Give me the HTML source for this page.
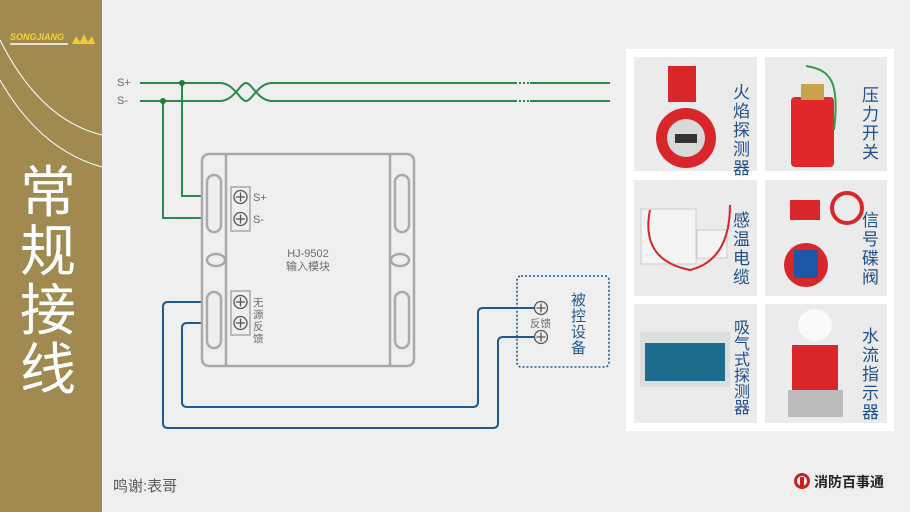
<!DOCTYPE html>
<html><head><meta charset="utf-8"><style>
html,body{margin:0;padding:0;}
body{width:910px;height:512px;overflow:hidden;background:#efeff0;font-family:"Liberation Sans","Noto Sans CJK SC",sans-serif;position:relative;}
</style></head><body>
<svg width="910" height="512" viewBox="0 0 910 512" xmlns="http://www.w3.org/2000/svg" style="position:absolute;left:0;top:0" font-family="Liberation Sans, Noto Sans CJK SC, sans-serif">
<rect x="0" y="0" width="910" height="512" fill="#efeff0"/>
<rect x="0" y="0" width="102" height="512" fill="#a08a4f"/>
<path d="M0 40 Q40 120 102 135" stroke="#fff" stroke-width="1" fill="none"/>
<path d="M0 80 Q40 150 102 167" stroke="#fff" stroke-width="1" fill="none"/>
<text x="10" y="40" font-size="9" font-weight="bold" font-style="italic" fill="#f3d23a">SONGJIANG</text>
<rect x="10" y="43" width="58" height="2" fill="#e8e0c8"/>
<path d="M72 44 L76 36 L80 42 L84 34 L88 42 L92 36 L95 44 Z" fill="#f1c83a"/>
<g fill="#fff" font-size="56" font-family="Noto Sans CJK SC, sans-serif">
<text x="20" y="212">常</text><text x="20" y="271">规</text><text x="20" y="330">接</text><text x="20" y="389">线</text>
</g>
<g stroke="#2b8a4a" stroke-width="2" fill="none">
<path d="M140 83 H220 C234 83 240 101 246 101 C252 101 258 83 272 83 H515"/>
<path d="M140 101 H220 C234 101 240 83 246 83 C252 83 258 101 272 101 H515"/>
<path d="M530 83 H610 M530 101 H610"/>
<path d="M515 83 H530 M515 101 H530" stroke-dasharray="2 2"/>
<path d="M182 83 V196 H202"/>
<path d="M163 101 V218 H202"/>
</g>
<circle cx="182" cy="83" r="3" fill="#1e7a3c"/>
<circle cx="163" cy="101" r="3" fill="#1e7a3c"/>
<g stroke="#1f5a8e" stroke-width="2" fill="none">
<path d="M202 302 H168 Q163 302 163 307 V423 Q163 428 168 428 H493 Q498 428 498 423 V342 Q498 337 503 337 H535"/>
<path d="M202 323 H187 Q182 323 182 328 V402 Q182 407 187 407 H473 Q478 407 478 402 V313 Q478 308 483 308 H535"/>
</g>
<g stroke="#a9a9ab" stroke-width="2.5" fill="#efeff0">
<rect x="202" y="154" width="212" height="212" rx="7"/>
<line x1="226" y1="154" x2="226" y2="366"/>
<line x1="390" y1="154" x2="390" y2="366"/>
<rect x="207" y="175" width="14" height="57" rx="7"/>
<rect x="207" y="292" width="14" height="56" rx="7"/>
<rect x="395" y="175" width="14" height="57" rx="7"/>
<rect x="395" y="292" width="14" height="56" rx="7"/>
<ellipse cx="216" cy="260" rx="9" ry="6"/>
<ellipse cx="400" cy="260" rx="9" ry="6"/>
<rect x="231" y="187" width="19" height="44" stroke-width="1.5"/>
<rect x="231" y="291" width="19" height="44" stroke-width="1.5"/>
</g>
<g stroke="#555" stroke-width="1.3" fill="#efeff0">
<circle cx="240.5" cy="197" r="6.5"/><circle cx="240.5" cy="219" r="6.5"/>
<circle cx="240.5" cy="302" r="6.5"/><circle cx="240.5" cy="323" r="6.5"/>
<circle cx="541" cy="308" r="6.5"/><circle cx="541" cy="337" r="6.5"/>
<path d="M236 197h9M240.5 192.5v9M236 219h9M240.5 214.5v9M236 302h9M240.5 297.5v9M236 323h9M240.5 318.5v9M536.5 308h9M541 303.5v9M536.5 337h9M541 332.5v9"/>
</g>
<g fill="#6b6b6b" font-size="11">
<text x="253" y="201">S+</text><text x="253" y="223">S-</text>
<text x="117" y="86">S+</text><text x="117" y="104">S-</text>
<text x="308" y="257" text-anchor="middle">HJ-9502</text>
<text x="308" y="270" text-anchor="middle" font-size="11">输入模块</text>
<text x="253" y="306" font-size="10.5">无</text><text x="253" y="318" font-size="10.5">源</text>
<text x="253" y="330" font-size="10.5">反</text><text x="253" y="342" font-size="10.5">馈</text>
<text x="530" y="327" font-size="10.5">反馈</text>
</g>
<rect x="517" y="276" width="92" height="91" rx="4" fill="none" stroke="#1f5a8e" stroke-width="1.6" stroke-dasharray="2 2"/>
<g fill="#1f5a8e" font-size="15">
<text x="571" y="305">被</text><text x="571" y="321">控</text><text x="571" y="337">设</text><text x="571" y="353">备</text>
</g>
<rect x="626" y="49" width="268" height="382" fill="#fff"/>
<g fill="#ebebec">
<rect x="634" y="57" width="123" height="114"/><rect x="765" y="57" width="122" height="114"/>
<rect x="634" y="180" width="123" height="116"/><rect x="765" y="180" width="122" height="116"/>
<rect x="634" y="304" width="123" height="119"/><rect x="765" y="304" width="122" height="119"/>
</g>
<rect x="668" y="66" width="28" height="36" fill="#d8262a"/>
<circle cx="686" cy="138" r="30" fill="#d8262a"/><circle cx="686" cy="138" r="19" fill="#d9d9d9"/><rect x="675" y="134" width="22" height="9" fill="#333"/>
<rect x="791" y="97" width="43" height="70" rx="4" fill="#e0282b"/><rect x="801" y="84" width="23" height="16" fill="#c9a24a"/>
<path d="M806 66 C830 70 840 80 834 130" stroke="#2aa04a" stroke-width="2" fill="none"/>
<rect x="641" y="209" width="55" height="55" fill="#f4f4f4" stroke="#ccc"/><rect x="697" y="230" width="30" height="28" fill="#f4f4f4" stroke="#ccc"/>
<path d="M650 210 Q640 260 690 270 Q730 260 730 205" stroke="#d8262a" stroke-width="2" fill="none"/>
<rect x="790" y="200" width="30" height="20" fill="#d8262a"/><circle cx="847" cy="208" r="15" fill="none" stroke="#d8262a" stroke-width="4"/>
<circle cx="806" cy="265" r="22" fill="#d8262a"/><rect x="794" y="250" width="24" height="28" fill="#1c5aa8"/>
<rect x="640" y="332" width="90" height="55" fill="#dcdfe0"/><rect x="645" y="343" width="80" height="38" fill="#1c6d8e"/>
<rect x="792" y="345" width="46" height="45" fill="#d8262a"/><rect x="788" y="390" width="55" height="27" fill="#bbb"/><ellipse cx="815" cy="325" rx="17" ry="16" fill="#fafafa"/>
<g fill="#1f4e8c" font-size="17" font-family="Noto Sans CJK SC, sans-serif">
<text x="733" y="98">火</text><text x="733" y="117">焰</text><text x="733" y="136">探</text><text x="733" y="155">测</text><text x="733" y="174">器</text>
<text x="862" y="101">压</text><text x="862" y="120">力</text><text x="862" y="139">开</text><text x="862" y="158">关</text>
<text x="733" y="226">感</text><text x="733" y="245">温</text><text x="733" y="264">电</text><text x="733" y="283">缆</text>
<text x="862" y="226">信</text><text x="862" y="245">号</text><text x="862" y="264">碟</text><text x="862" y="283">阀</text>
<text x="862" y="342">水</text><text x="862" y="361">流</text><text x="862" y="380">指</text><text x="862" y="399">示</text><text x="862" y="418">器</text>
</g>
<g fill="#1f4e8c" font-size="16" font-family="Noto Sans CJK SC, sans-serif">
<text x="734" y="333">吸</text><text x="734" y="349">气</text><text x="734" y="365">式</text><text x="734" y="381">探</text><text x="734" y="397">测</text><text x="734" y="413">器</text>
</g>
<text x="113" y="491" fill="#5a5a5a" font-size="15">鸣谢:表哥</text>
<circle cx="802" cy="481" r="8" fill="#c8201f"/><circle cx="802" cy="481" r="5" fill="#fff"/><rect x="800" y="477" width="4" height="9" fill="#c8201f"/>
<text x="814" y="487" fill="#222" font-size="14" font-weight="bold">消防百事通</text>
</svg>
</body></html>
